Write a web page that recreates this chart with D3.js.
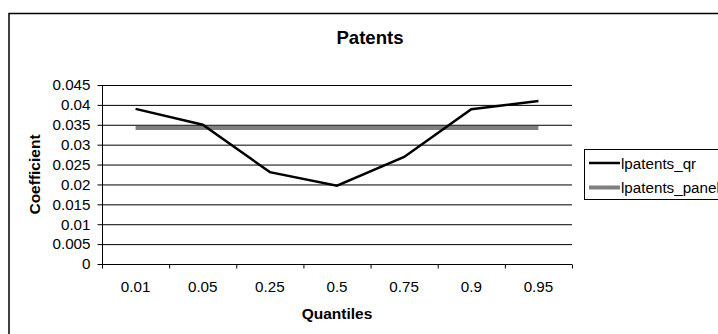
<!DOCTYPE html>
<html>
<head>
<meta charset="utf-8">
<script src="https://cdn.jsdelivr.net/npm/d3@7"></script>
<style>
  body { margin: 0; background: #fff; }
  text { font-family: "Liberation Sans", Arial, sans-serif; }
</style>
</head>
<body>
<div id="chart"></div>
<script>
/* data */
var quantiles = ["0.01", "0.05", "0.25", "0.5", "0.75", "0.9", "0.95"];
var patentsQr = [0.039, 0.035, 0.0231, 0.0197, 0.0269, 0.0389, 0.041];
var patentsPanel = [0.0342, 0.0342, 0.0342, 0.0342, 0.0342, 0.0342, 0.0342];
var yTicks = [0, 0.005, 0.01, 0.015, 0.02, 0.025, 0.03, 0.035, 0.04, 0.045];
var seriesNames = ["lpatents_qr", "lpatents_panel"];

var W = 718, H = 334;
var margin = { top: 85, right: 146, bottom: 70, left: 102 },
    width = W - margin.left - margin.right,
    height = H - margin.top - margin.bottom;

var tickFont = 15.2;

var root = d3.select("#chart")
    .append("svg")
    .attr("width", W)
    .attr("height", H);

// outer chart frame (runs off the right and bottom edges)
root.append("rect")
    .attr("x", 9).attr("y", 13.5)
    .attr("width", 720).attr("height", 340)
    .attr("fill", "none")
    .attr("stroke", "#000")
    .attr("stroke-width", 1.5);

root.append("text")
    .attr("x", 370).attr("y", 44)
    .attr("text-anchor", "middle")
    .attr("font-size", 18.6).attr("font-weight", "bold")
    .text("Patents");

var svg = root.append("g")
    .attr("transform", "translate(" + margin.left + "," + margin.top + ")");

var x = d3.scaleBand()
    .domain(quantiles)
    .range([0, width])
    .padding(0);

var y = d3.scaleLinear()
    .domain([0, 0.045])
    .range([height, 0]);

// gridlines
svg.append("g")
    .selectAll("line")
    .data(yTicks.filter(function (d) { return d > 0; }))
    .enter().append("line")
    .attr("x1", 0).attr("x2", width)
    .attr("y1", function (d) { return y(d) + 0.5; })
    .attr("y2", function (d) { return y(d) + 0.5; })
    .attr("stroke", "#000")
    .attr("stroke-width", 1);

// Y axis
var yAxis = svg.append("g")
    .call(d3.axisLeft(y).tickValues(yTicks).tickFormat(function (d) { return String(d); })
        .tickSize(4.5).tickPadding(7));
yAxis.selectAll("text").attr("font-size", tickFont).attr("fill", "#000").style("font-family", "'Liberation Sans', Arial, sans-serif");
yAxis.selectAll("line").attr("stroke", "#000");
yAxis.select(".domain").attr("d", "M0.5," + y(0.045) + "V" + (height + 0.5)).attr("stroke", "#000");

// X axis: labels at centres, ticks at category boundaries
var xAxis = svg.append("g")
    .attr("transform", "translate(0," + (height + 0.5) + ")")
    .call(d3.axisBottom(x).tickSize(0).tickPadding(16.5));
xAxis.selectAll("text").attr("font-size", tickFont).attr("fill", "#000").style("font-family", "'Liberation Sans', Arial, sans-serif");
xAxis.select(".domain").attr("d", "M0," + 0 + "H" + width).attr("stroke", "#000");
xAxis.selectAll(".edge")
    .data(quantiles.map(function (q) { return x(q); }).concat([width]))
    .enter().append("line")
    .attr("class", "edge")
    .attr("x1", function (d) { return d + 0.5; })
    .attr("x2", function (d) { return d + 0.5; })
    .attr("y1", 0).attr("y2", 4)
    .attr("stroke", "#000");

var cx = function (d, i) { return x(quantiles[i]) + x.bandwidth() / 2; };

svg.append("path")
    .datum(patentsPanel)
    .attr("fill", "none")
    .attr("stroke", "#808080")
    .attr("stroke-width", 4)
    .attr("d", d3.line().x(cx).y(function (d) { return y(d); }));

svg.append("path")
    .datum(patentsQr)
    .attr("fill", "none")
    .attr("stroke", "#000")
    .attr("stroke-width", 2.5)
    .attr("d", d3.line().x(cx).y(function (d) { return y(d); }));

// axis titles
root.append("text")
    .attr("transform", "translate(39.5," + (margin.top + height / 2) + ") rotate(-90)")
    .attr("text-anchor", "middle")
    .attr("font-size", 15.5).attr("font-weight", "bold")
    .text("Coefficient");

root.append("text")
    .attr("x", margin.left + width / 2).attr("y", 319)
    .attr("text-anchor", "middle")
    .attr("font-size", 15.5).attr("font-weight", "bold")
    .text("Quantiles");

// legend
var legend = root.append("g");
legend.append("rect")
    .attr("x", 584.5).attr("y", 149.5)
    .attr("width", 200).attr("height", 50)
    .attr("fill", "#fff")
    .attr("stroke", "#000");
var legColors = ["#000", "#808080"], legWidths = [2.5, 4];
seriesNames.forEach(function (name, i) {
    var ly = 163 + i * 24.5;
    legend.append("line")
        .attr("x1", 589).attr("x2", 620)
        .attr("y1", ly).attr("y2", ly)
        .attr("stroke", legColors[i])
        .attr("stroke-width", legWidths[i]);
    legend.append("text")
        .attr("x", 621).attr("y", ly + 5.5)
        .attr("font-size", tickFont)
        .text(name);
});
</script>
</body>
</html>
